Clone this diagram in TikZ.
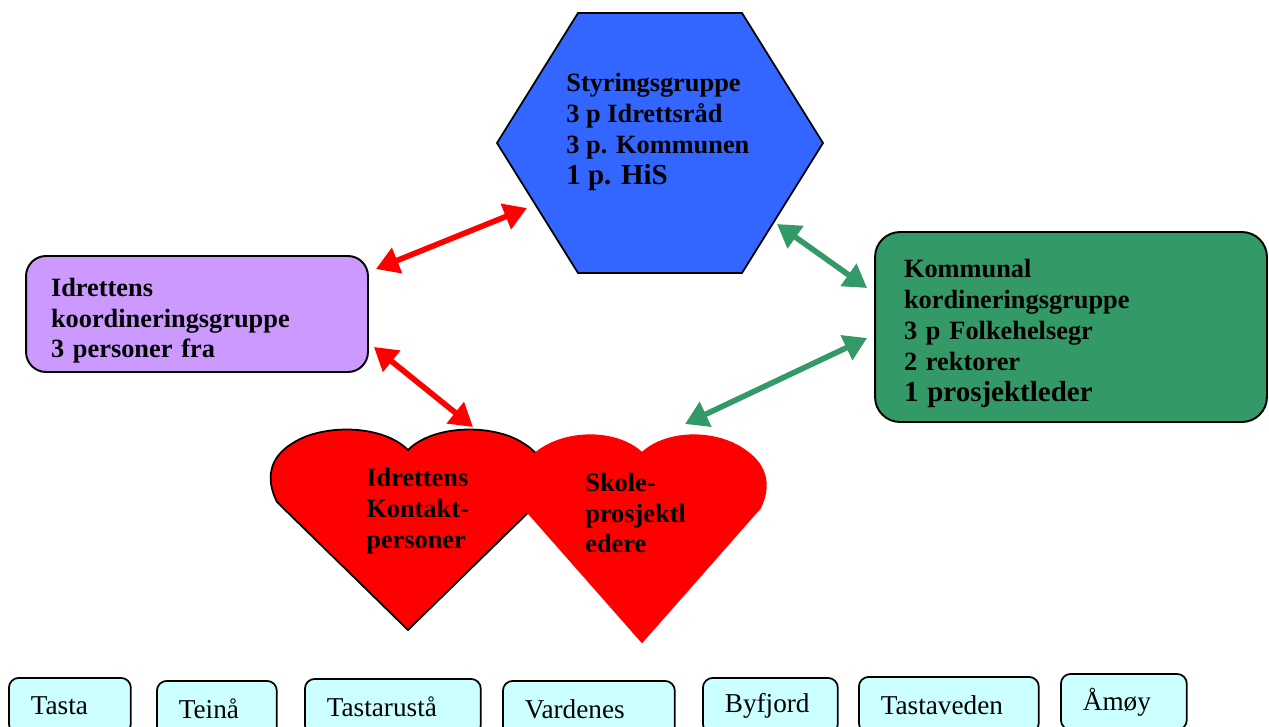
\documentclass[tikz,border=0pt]{standalone}
\usepackage{fontspec}
\setmainfont{Liberation Serif}
\usetikzlibrary{arrows.meta,positioning}
\definecolor{hexblue}{HTML}{3366FF}
\definecolor{idrpurple}{HTML}{CC99FF}
\definecolor{kommgreen}{HTML}{339966}
\definecolor{heartred}{HTML}{FF0000}
\definecolor{placecyan}{HTML}{CCFFFF}
\begin{document}
\begin{tikzpicture}[x=0.02cm,y=-0.02cm]
                \tikzset{GroupBox/.style={%
                    shape=rectangle,%
                    draw=black,%
                    line width=1.1pt,%
                    rounded corners=0.4cm,%
                    align=left,%
                    inner ysep=0pt,%
                    execute at begin node={\rule{0pt}{18pt}},%
                    font=\fontsize{15}{17.6}\selectfont\bfseries,%
                },
                Place/.style={%
                    shape=rectangle,%
                    draw=black,%
                    fill=placecyan,%
                    line width=1pt,%
                    rounded corners=0.2cm,%
                    anchor=north west,%
                    align=left,%
                    inner xsep=0.44cm,%
                    minimum height=1.12cm,%
                    font=\fontsize{15.5}{18}\selectfont,%
                },
                Link/.style={%
                    line width=3.2pt,%
                    {Triangle[length=13pt,width=15pt]}-{Triangle[length=13pt,width=15pt]},%
                }}
                \useasboundingbox (0,0) rectangle (1269,727);

                \filldraw[fill=hexblue, draw=black, line width=1pt]
                    (578,13) -- (742,13) -- (823,143) -- (742,273) -- (578,273) -- (497,143) -- cycle;
                \node[align=left, anchor=west, inner sep=0pt, font=\fontsize{15}{17.6}\selectfont\bfseries] (styr) at (566,132)
                    {Styringsgruppe\\3 p Idrettsråd\\3 p. Kommunen\\{\fontsize{16.5}{19}\selectfont 1 p. HiS}};
                \coordinate (hexW) at (527,208);
                \coordinate (hexE) at (777,224);

                \node[GroupBox, fill=idrpurple, inner xsep=0.5cm, text width=5.84cm, minimum height=2.32cm] (idr) at (197,314)
                    {Idrettens\\koordineringsgruppe\\3 personer fra};
                \node[GroupBox, fill=kommgreen, inner xsep=0.58cm, text width=6.68cm, minimum height=3.8cm, rounded corners=0.5cm] (komm) at (1071,327)
                    {Kommunal\\kordineringsgruppe\\3 p Folkehelsegr\\2 rektorer\\{\fontsize{16.5}{19}\selectfont 1 prosjektleder}};

                \filldraw[fill=heartred, draw=black, line width=1pt]
                    (408,630) -- (277,502) .. controls (266,480) and (268,458) .. (293,443)
                    .. controls (322,424) and (382,424) .. (408,450)
                    .. controls (434,424) and (494,424) .. (523,443)
                    .. controls (548,458) and (550,480) .. (539,502) -- cycle;
                \filldraw[fill=heartred, draw=heartred, line width=1pt]
                    (642,642) -- (524,508) .. controls (514,488) and (516,467) .. (537,452)
                    .. controls (565,430) and (616,429) .. (642,453)
                    .. controls (668,429) and (719,430) .. (747,452)
                    .. controls (768,467) and (770,488) .. (760,508) -- cycle;
                \node[align=left, anchor=west, inner sep=0pt, font=\fontsize{15}{17.6}\selectfont\bfseries] (kontakt) at (366,511)
                    {Idrettens\\Kontakt-\\personer};
                \node[align=left, anchor=west, inner sep=0pt, font=\fontsize{15}{17.6}\selectfont\bfseries] (skole) at (585,513)
                    {Skole-\\prosjektl\\edere};
                \coordinate (lheart) at (473,427);
                \coordinate (rheart) at (685,424);

                \draw[Link, heartred] ([xshift=0.14cm,yshift=-0.28cm]idr.north east) -- (hexW);
                \draw[Link, heartred] ([xshift=0.1cm,yshift=0.52cm]idr.south east) -- (lheart);
                \draw[Link, kommgreen] (hexE) -- ([xshift=-0.14cm,yshift=0.78cm]komm.west);
                \draw[Link, kommgreen] ([xshift=-0.14cm,yshift=-0.22cm]komm.west) -- (rheart);

                \node[Place, text width=1.56cm] (tasta) at (8,677) {Tasta};
                \node[Place, text width=1.52cm] (teina) at (156,680) {Teinå};
                \node[Place, text width=2.64cm] (tastarusta) at (304,678) {Tastarustå};
                \node[Place, text width=2.56cm] (vardenes) at (502,680) {Vardenes};
                \node[Place, text width=1.82cm] (byfjord) at (702,677) {Byfjord};
                \node[Place, text width=2.72cm] (tastaveden) at (858,676) {Tastaveden};
                \node[Place, text width=1.64cm] (amoy) at (1060,673) {Åmøy};
            \end{tikzpicture}
\end{document}
